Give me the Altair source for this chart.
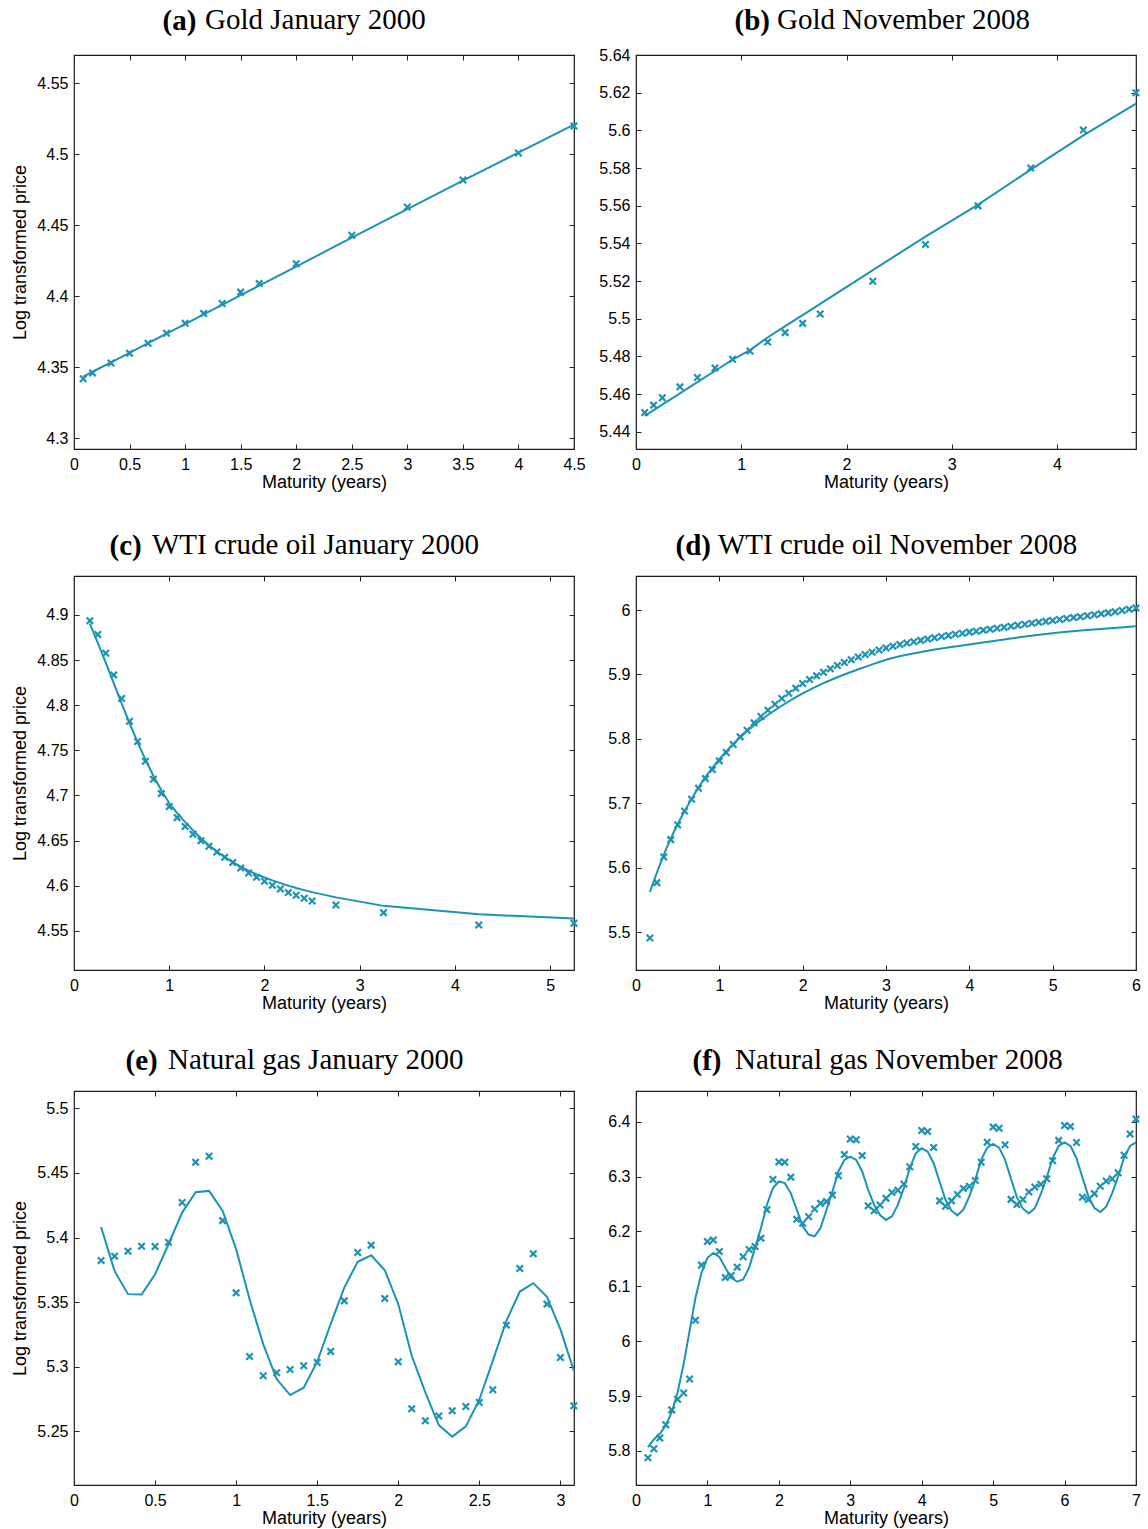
import altair as alt
import pandas as pd

# ---------------- data ----------------
# (a) Gold January 2000
a_x = [0.083, 0.167, 0.333, 0.5, 0.667, 0.833, 1.0, 1.167, 1.333, 1.5, 1.667, 2.0, 2.5, 3.0, 3.5, 4.0, 4.5]
a_obs = [4.342, 4.346, 4.353, 4.360, 4.367, 4.374, 4.381, 4.388, 4.395, 4.403, 4.409, 4.423, 4.443, 4.463, 4.482, 4.501, 4.520]
a_fit = [4.3435, 4.3469, 4.3535, 4.3602, 4.3670, 4.3738, 4.3805, 4.3873, 4.3940, 4.4008, 4.4076, 4.4210, 4.4413, 4.4615, 4.4815, 4.5013, 4.5210]

# (b) Gold November 2008
b_x = [0.083, 0.167, 0.25, 0.417, 0.583, 0.75, 0.917, 1.083, 1.25, 1.417, 1.583, 1.75, 2.25, 2.75, 3.25, 3.75, 4.25, 4.75]
b_obs = [5.4502, 5.4541, 5.4580, 5.4638, 5.4688, 5.4738, 5.4785, 5.4828, 5.4876, 5.4926, 5.4975, 5.5025,
         5.5199, 5.5394, 5.5599, 5.5800, 5.6002, 5.6200]
b_fit = [5.4484, 5.4514, 5.4544, 5.4603, 5.4663, 5.4722, 5.4782, 5.4833, 5.4900, 5.4960, 5.5019, 5.5079,
         5.5258, 5.5436, 5.5606, 5.5791, 5.5973, 5.6142]

# (c) WTI crude oil January 2000
c_x = [0.167, 0.25, 0.333, 0.417, 0.5, 0.583, 0.667, 0.75, 0.833, 0.917, 1.0, 1.083, 1.167, 1.25, 1.333,
       1.417, 1.5, 1.583, 1.667, 1.75, 1.833, 1.917, 2.0, 2.083, 2.167, 2.25, 2.333, 2.417, 2.5, 2.75,
       3.25, 4.25, 5.25]
c_obs = [4.8934, 4.8782, 4.8575, 4.8335, 4.8073, 4.7822, 4.7597, 4.7379, 4.7180, 4.7021, 4.6877, 4.6755,
         4.6656, 4.6570, 4.6500, 4.6438, 4.6375, 4.6316, 4.6257, 4.6198, 4.6142, 4.6094, 4.6050, 4.6006,
         4.5965, 4.5925, 4.5895, 4.5862, 4.5832, 4.5788, 4.5703, 4.5567, 4.5585]
c_fit = [4.8904, 4.8690, 4.8472, 4.8245, 4.8020, 4.7800, 4.7590, 4.7398, 4.7218, 4.7058, 4.6914, 4.6805,
         4.6705, 4.6612, 4.6527, 4.6450, 4.6380, 4.6318, 4.6262, 4.6212, 4.6167, 4.6127, 4.6092, 4.6060,
         4.6030, 4.6002, 4.5976, 4.5952, 4.5930, 4.5872, 4.5778, 4.5685, 4.5637]

# (d) WTI crude oil November 2008
d_x = [0.167, 0.25, 0.333, 0.417, 0.5, 0.583, 0.667, 0.75, 0.833, 0.917, 1.0, 1.083, 1.167, 1.25, 1.333,
       1.417, 1.5, 1.583, 1.667, 1.75, 1.833, 1.917, 2.0, 2.083, 2.167, 2.25, 2.333, 2.417, 2.5, 2.583,
       2.667, 2.75, 2.833, 2.917, 3.0, 3.083, 3.167, 3.25, 3.333, 3.417, 3.5, 3.583, 3.667, 3.75, 3.833,
       3.917, 4.0, 4.083, 4.167, 4.25, 4.333, 4.417, 4.5, 4.583, 4.667, 4.75, 4.833, 4.917, 5.0, 5.083,
       5.167, 5.25, 5.333, 5.417, 5.5, 5.583, 5.667, 5.75, 5.833, 5.917, 6.0]
d_obs = [5.4907, 5.5767, 5.6166, 5.6435, 5.6663, 5.6881, 5.7062, 5.7233, 5.7383, 5.7523, 5.7658, 5.7788,
         5.7912, 5.8031, 5.8135, 5.8249, 5.8347, 5.8446, 5.8539, 5.8627, 5.8710, 5.8788, 5.8860, 5.8922,
         5.8979, 5.9036, 5.9088, 5.9140, 5.9187, 5.9230, 5.9272, 5.9310, 5.9346, 5.9380, 5.9413, 5.9440,
         5.9466, 5.9489, 5.9510, 5.9530, 5.9550, 5.9570, 5.9589, 5.9606, 5.9625, 5.9641, 5.9658, 5.9673,
         5.9689, 5.9704, 5.9719, 5.9735, 5.9750, 5.9765, 5.9780, 5.9795, 5.9810, 5.9825, 5.9840, 5.9855,
         5.9869, 5.9884, 5.9898, 5.9913, 5.9927, 5.9942, 5.9957, 5.9975, 5.9993, 6.0012, 6.0032]
d_fit_x = [0.167, 0.25, 0.333, 0.417, 0.5, 0.583, 0.667, 0.75, 0.833, 0.917, 1.0, 1.25, 1.5, 1.75, 2.0,
           2.25, 2.5, 2.75, 3.0, 3.5, 4.0, 4.5, 5.0, 5.5, 6.0]
d_fit = [5.5622, 5.5920, 5.6200, 5.6450, 5.6674, 5.6875, 5.7065, 5.7245, 5.7405, 5.7550, 5.7684, 5.8025,
         5.8295, 5.8515, 5.8705, 5.8865, 5.9000, 5.9118, 5.9230, 5.9368, 5.9466, 5.9560, 5.9642, 5.9700,
         5.9751]

# (e) Natural gas January 2000
e_x = [0.167, 0.25, 0.333, 0.417, 0.5, 0.583, 0.667, 0.75, 0.833, 0.917, 1.0, 1.083, 1.167, 1.25, 1.333,
       1.417, 1.5, 1.583, 1.667, 1.75, 1.833, 1.917, 2.0, 2.083, 2.167, 2.25, 2.333, 2.417, 2.5, 2.583,
       2.667, 2.75, 2.833, 2.917, 3.0, 3.083]
e_obs = [5.3822, 5.3856, 5.3894, 5.3933, 5.3930, 5.3964, 5.4271, 5.4582, 5.4629, 5.4131, 5.3572, 5.3080,
         5.2930, 5.2954, 5.2979, 5.3008, 5.3034, 5.3119, 5.3510, 5.3884, 5.3941, 5.3528, 5.3039, 5.2675,
         5.2582, 5.2619, 5.2660, 5.2693, 5.2724, 5.2822, 5.3322, 5.3760, 5.3874, 5.3485, 5.3072, 5.2698]
e_fit = [5.4082, 5.3742, 5.3562, 5.3559, 5.3716, 5.3948, 5.4193, 5.4350, 5.4361, 5.4206, 5.3910, 5.3523,
         5.3175, 5.2905, 5.2781, 5.2838, 5.3039, 5.3330, 5.3613, 5.3812, 5.3863, 5.3747, 5.3485, 5.3085,
         5.2802, 5.2549, 5.2459, 5.2539, 5.2745, 5.3046, 5.3356, 5.3582, 5.3647, 5.3541, 5.3291, 5.2969]

# (f) Natural gas November 2008
f_x = [0.167, 0.25, 0.333, 0.417, 0.5, 0.583, 0.667, 0.75, 0.833, 0.917, 1.0, 1.083, 1.167, 1.25, 1.333,
       1.417, 1.5, 1.583, 1.667, 1.75, 1.833, 1.917, 2.0, 2.083, 2.167, 2.25, 2.333, 2.417, 2.5, 2.583,
       2.667, 2.75, 2.833, 2.917, 3.0, 3.083, 3.167, 3.25, 3.333, 3.417, 3.5, 3.583, 3.667, 3.75, 3.833,
       3.917, 4.0, 4.083, 4.167, 4.25, 4.333, 4.417, 4.5, 4.583, 4.667, 4.75, 4.833, 4.917, 5.0, 5.083,
       5.167, 5.25, 5.333, 5.417, 5.5, 5.583, 5.667, 5.75, 5.833, 5.917, 6.0, 6.083, 6.167, 6.25, 6.333,
       6.417, 6.5, 6.583, 6.667, 6.75, 6.833, 6.917, 7.0]
f_obs = [5.7878, 5.8041, 5.8235, 5.8477, 5.8749, 5.8943, 5.9057, 5.9312, 6.0382, 6.1387, 6.1816, 6.1846,
         6.1635, 6.1163, 6.1199, 6.1350, 6.1538, 6.1671, 6.1725, 6.1877, 6.2397, 6.2947, 6.3268, 6.3262,
         6.2990, 6.2221, 6.2149, 6.2270, 6.2409, 6.2512, 6.2548, 6.2663, 6.3014, 6.3401, 6.3685, 6.3673,
         6.3383, 6.2469, 6.2379, 6.2482, 6.2603, 6.2711, 6.2750, 6.2865, 6.3180, 6.3550, 6.3840, 6.3822,
         6.3532, 6.2558, 6.2460, 6.2558, 6.2675, 6.2785, 6.2825, 6.2930, 6.3262, 6.3628, 6.3905, 6.3882,
         6.3582, 6.2585, 6.2490, 6.2582, 6.2720, 6.2812, 6.2860, 6.2962, 6.3290, 6.3660, 6.3932, 6.3915,
         6.3620, 6.2625, 6.2582, 6.2690, 6.2825, 6.2920, 6.2962, 6.3070, 6.3390, 6.3775, 6.4048]
f_fit = [5.8071, 5.8211, 5.8313, 5.8465, 5.8707, 5.9070, 5.9584, 6.0189, 6.0794, 6.1247, 6.1520, 6.1610,
         6.1538, 6.1338, 6.1157, 6.1084, 6.1126, 6.1338, 6.1701, 6.2064, 6.2488, 6.2790, 6.2911, 6.2881,
         6.2700, 6.2397, 6.2094, 6.1943, 6.1913, 6.2064, 6.2397, 6.2730, 6.3093, 6.3304, 6.3365, 6.3304,
         6.3093, 6.2760, 6.2488, 6.2300, 6.2210, 6.2276, 6.2488, 6.2790, 6.3153, 6.3425, 6.3516, 6.3456,
         6.3244, 6.2911, 6.2578, 6.2379, 6.2294, 6.2397, 6.2639, 6.2941, 6.3304, 6.3528, 6.3595, 6.3528,
         6.3304, 6.2960, 6.2621, 6.2415, 6.2330, 6.2427, 6.2681, 6.2984, 6.3335, 6.3558, 6.3625, 6.3558,
         6.3335, 6.2984, 6.2639, 6.2427, 6.2354, 6.2451, 6.2700, 6.3002, 6.3347, 6.3558, 6.3625]

# tick labels
a_xt = [0, 0.5, 1, 1.5, 2, 2.5, 3, 3.5, 4, 4.5]
a_yt = [4.3, 4.35, 4.4, 4.45, 4.5, 4.55]
b_xt = [0, 1, 2, 3, 4]
b_yt = [5.44, 5.46, 5.48, 5.5, 5.52, 5.54, 5.56, 5.58, 5.6, 5.62, 5.64]
c_xt = [0, 1, 2, 3, 4, 5]
c_yt = [4.55, 4.6, 4.65, 4.7, 4.75, 4.8, 4.85, 4.9]
d_xt = [0, 1, 2, 3, 4, 5, 6]
d_yt = [5.5, 5.6, 5.7, 5.8, 5.9, 6.0]
e_xt = [0, 0.5, 1, 1.5, 2, 2.5, 3]
e_yt = [5.25, 5.3, 5.35, 5.4, 5.45, 5.5]
f_xt = [0, 1, 2, 3, 4, 5, 6, 7]
f_yt = [5.8, 5.9, 6.0, 6.1, 6.2, 6.3, 6.4]

# ---------------- style ----------------
COLOR = "#1b93b4"
SANS = "Liberation Sans"
SERIF = "Liberation Serif"
W, H = 500, 394
TFS = 29
XMARK = "M-1,-1L1,1M-1,1L1,-1"


def panel(xo, yo, xf, yf, xdom, ydom, xt, yt, tag, caption, dx, ty,
          ytitle=None, interp="linear", xtitle_extra=None):
    obs = pd.DataFrame({"m": xo, "v": yo})
    fit = pd.DataFrame({"m": xf, "v": yf})
    xs = alt.Scale(domain=xdom, nice=False, zero=False)
    ys = alt.Scale(domain=ydom, nice=False, zero=False)
    common = dict(values=xt, tickSize=5, offset=-5, domain=False, grid=False,
                  tickColor="#222222", tickWidth=1)
    xtitle = "Maturity (years)"
    xaxis_kw = {}
    if xtitle_extra:
        xtitle = ["Maturity (years)", " "]
        xaxis_kw = dict(titleLineHeight=xtitle_extra)
    x_bottom = alt.Axis(orient="bottom", format="~g", labelFont=SANS, labelFontSize=16,
                        labelColor="black", labelPadding=7, title=xtitle,
                        titleFont=SANS, titleFontSize=18, titleFontWeight="normal",
                        titleColor="black", titlePadding=1, labelFlush=False, labelOverlap=False,
                        **xaxis_kw, **common)
    # top axis: inward ticks, and carries the bold sub-figure tag
    x_top = alt.Axis(orient="top", labels=False, title=tag, titleFont=SERIF, titleFontSize=TFS,
                     titleFontWeight="bold", titleColor="black", titleX=dx, titleY=ty,
                     titleAlign="left", titleBaseline="top", titleAngle=0, **common)
    ycommon = dict(common)
    ycommon["values"] = yt
    y_left = alt.Axis(orient="left", format="~g", labelFont=SANS, labelFontSize=16,
                      labelColor="black", labelPadding=6, labelFlush=False, labelOverlap=False,
                      title=ytitle, titleFont=SANS, titleFontSize=18,
                      titleFontWeight="normal", titleColor="black", titlePadding=7, **ycommon)
    y_right = alt.Axis(orient="right", labels=False, title=None, **ycommon)

    line = alt.Chart(fit).mark_line(color=COLOR, strokeWidth=2, interpolate=interp).encode(
        x=alt.X("m:Q", scale=xs, axis=x_bottom),
        y=alt.Y("v:Q", scale=ys, axis=y_left),
    )
    pts = alt.Chart(obs).mark_point(shape=XMARK, filled=False, strokeWidth=2.2, size=42,
                                    color=COLOR, opacity=1).encode(
        x=alt.X("m:Q", scale=xs, axis=x_top),
        y=alt.Y("v:Q", scale=ys, axis=y_right),
    )
    title = alt.TitleParams(
        text=caption, anchor="start", frame="group", dx=dx + 43, offset=-TFS,
        font=SERIF, fontSize=TFS, fontWeight="normal", color="black", baseline="top",
    )
    return alt.layer(line, pts).resolve_axis(x="independent", y="independent").properties(
        width=W, height=H, title=title)


pa = panel(a_x, a_obs, a_x, a_fit, [0, 4.5], [4.2925, 4.570], a_xt, a_yt,
           "(a)", "Gold January 2000", 88, -54, ytitle="Log transformed price", xtitle_extra=6)
pb = panel(b_x, b_obs, b_x, b_fit, [0, 4.75], [5.4308, 5.640], b_xt, b_yt,
           "(b)", "Gold November 2008", 98, -54, xtitle_extra=6)
pc = panel(c_x, c_obs, c_x, c_fit, [0, 5.25], [4.5068, 4.943], c_xt, c_yt,
           "(c)", "WTI crude oil January 2000", 35, -50, ytitle="Log transformed price")
pd_ = panel(d_x, d_obs, d_fit_x, d_fit, [0, 6], [5.441, 6.053], d_xt, d_yt,
            "(d)", "WTI crude oil November 2008", 39, -50, interp="monotone")
pe = panel(e_x, e_obs, e_x, e_fit, [0, 3.084], [5.2085, 5.5134], e_xt, e_yt,
           "(e)", "Natural gas January 2000", 51, -50, ytitle="Log transformed price")
pf = panel(f_x, f_obs, f_x, f_fit, [0, 7], [5.738, 6.456], f_xt, f_yt,
           "(f)", "Natural gas November 2008", 56, -50)

left = alt.vconcat(pa, pc, pe, spacing=32)
right = alt.vconcat(pb, pd_, pf, spacing=32)

chart = alt.concat(left, right, columns=2, spacing=12, align="none").properties(
    padding={"left": 11, "top": 5, "right": 0, "bottom": 0},
    background="white",
).configure_view(stroke="#1a1a1a", strokeWidth=1.2)

chart.save("out.html", embed_options={"renderer": "svg", "actions": False})
